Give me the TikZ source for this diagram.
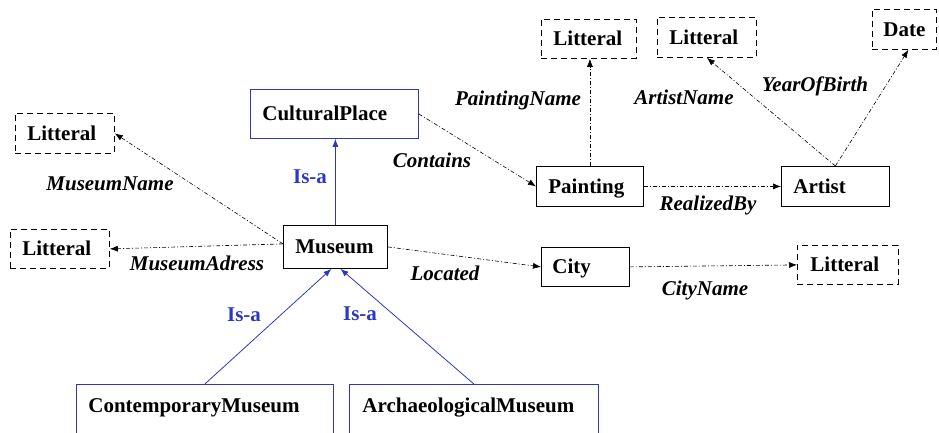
\documentclass[tikz,border=0pt]{standalone}
\usepackage{fontspec}
\setmainfont{Liberation Serif}
\usetikzlibrary{arrows.meta}
\definecolor{isablue}{RGB}{45,55,195}

\begin{document}
\begin{tikzpicture}[x=1pt, y=-1pt, >={Latex[length=8pt, width=6pt]},
		font=\fontsize{21}{24}\selectfont\bfseries,
		concept/.style={draw, line width=0.8pt, inner xsep=12pt, inner ysep=0pt, align=left,
			text height=15pt, text depth=1pt, anchor=north west},
		litteral/.style={concept, dash pattern=on 6pt off 4pt},
		subclass/.style={concept, draw=isablue},
		lowclass/.style={subclass, text height=28pt, text depth=40pt},
		relation/.style={->, line width=0.6pt, dash pattern=on 4pt off 2pt on 1pt off 2pt},
		isa/.style={->, draw=isablue, line width=0.8pt},
		rel/.style={font=\fontsize{21}{24}\selectfont\bfseries\itshape},
		isalabel/.style={text=isablue}]
		\useasboundingbox (0, 0) rectangle (939, 432);
		
		\node[litteral, text width=75pt, minimum height=40pt] (litname) at (15, 113) {Litteral};
		\node[litteral, text width=75pt, minimum height=39pt] (litadress) at (10, 229) {Litteral};
		\node[subclass, text width=144pt, minimum height=49pt] (cultural) at (250, 89) {CulturalPlace};
		\node[concept, text width=80pt, minimum height=43pt] (museum) at (283, 225) {Museum};
		\node[concept, text width=83pt, minimum height=40pt] (painting) at (536, 166) {Painting};
		\node[litteral, text width=71pt, minimum height=39pt] (litpainting) at (541, 19) {Litteral};
		\node[litteral, text width=75pt, minimum height=40pt] (litartist) at (657, 17) {Litteral};
		\node[litteral, text width=42pt, minimum height=40pt, inner xsep=11pt] (date) at (872, 9) {Date};
		\node[concept, text width=84pt, minimum height=40pt] (artist) at (781, 166) {Artist};
		\node[concept, text width=66pt, minimum height=39pt, inner xsep=11pt] (city) at (541, 247) {City};
		\node[litteral, text width=75pt, minimum height=39pt, inner xsep=13pt] (litcity) at (797, 245) {Litteral};
		\node[lowclass, text width=233pt] (contemporary) at (76, 384) {ContemporaryMuseum};
		\node[lowclass, text width=223pt, inner xsep=13pt] (archaeo) at (349, 384) {ArchaeologicalMuseum};
		
		\draw[isa] (museum.north) -- (museum.north |- cultural.south);
		\draw[isa] (contemporary.north) -- ([xshift=-4pt]museum.south);
		\draw[isa] (archaeo.north) -- ([xshift=5pt]museum.south);
		
		\draw[relation] ([yshift=3pt]museum.west) -- (litname.east);
		\draw[relation] ([yshift=3pt]museum.west) -- (litadress.east);
		\draw[relation] (museum.east) -- (city.west);
		\draw[relation] (city.east) -- (litcity.west);
		\draw[relation] (cultural.east) -- (painting.west);
		\draw[relation] (painting.north) -- (painting.north |- litpainting.south);
		\draw[relation] (painting.east) -- (artist.west);
		\draw[relation] (artist.north) -- (litartist.south);
		\draw[relation] (artist.north) -- ([xshift=4pt]date.south);
		
		\node[isalabel] (isaup) at (310, 177) {Is-a};
		\node[isalabel] (isaleft) at (244, 315) {Is-a};
		\node[isalabel] (isaright) at (360, 314) {Is-a};
		
		\node[rel] (lmusname) at (110, 184) {MuseumName};
		\node[rel] (lmusadress) at (197, 263) {MuseumAdress};
		\node[rel] (lcontains) at (432, 160) {Contains};
		\node[rel] (llocated) at (445, 273) {Located};
		\node[rel] (lpaintname) at (518, 100) {PaintingName};
		\node[rel] (lartistname) at (684, 97) {ArtistName};
		\node[rel] (lbirth) at (815, 86) {YearOfBirth};
		\node[rel] (lrealized) at (708, 205) {RealizedBy};
		\node[rel] (lcityname) at (705, 290) {CityName};
	\end{tikzpicture}
\end{document}
